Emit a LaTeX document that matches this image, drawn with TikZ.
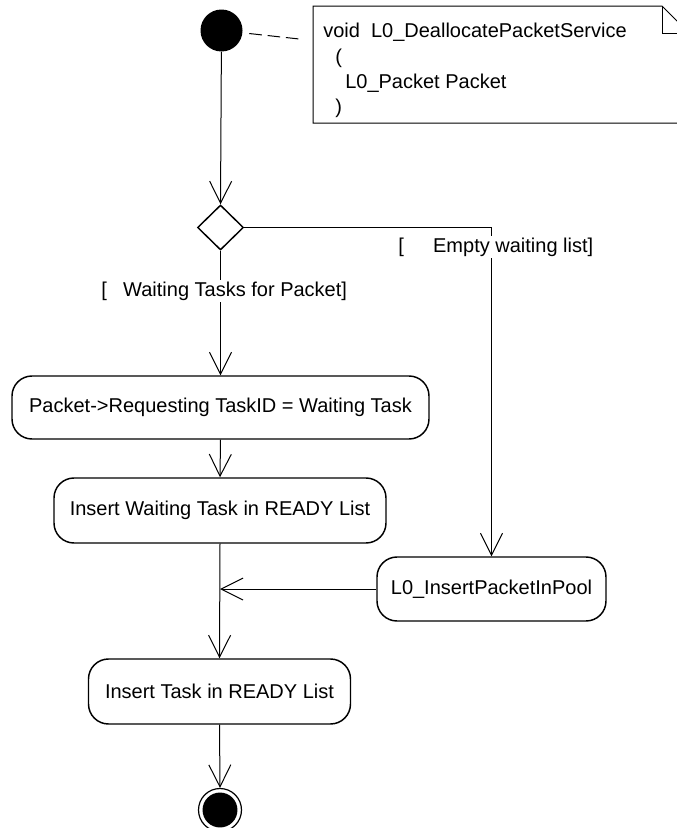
\documentclass[tikz,border=0pt]{standalone}
\usepackage{fontspec}
\setmainfont{Liberation Sans}
\usetikzlibrary{arrows.meta,shapes.geometric,calc}

\tikzset{
  action/.style={draw, line width=1.1pt, rounded corners=15pt, inner sep=0pt, align=center},
  decision/.style={diamond, draw, line width=1.1pt, minimum width=34.5pt, minimum height=33.75pt, inner sep=0pt},
  initial/.style={circle, fill=black, minimum size=31.5pt, inner sep=0pt},
  final/.style={circle, draw, line width=0.9pt, minimum size=32.25pt, inner sep=0pt,
    path picture={\fill (path picture bounding box.center) circle (13.1pt);}},
  flow/.style={line width=0.75pt, -{Straight Barb[length=16.5pt,width=16.5pt]}},
  guard/.style={fill=white, inner xsep=0pt, inner ysep=1.5pt, anchor=west},
  notetext/.style={inner sep=0pt, anchor=base west},
  noteline/.style={line width=0.75pt},
  anchorline/.style={line width=0.75pt, dash pattern=on 9.5pt off 4.3pt}
}

\begin{document}
\begin{tikzpicture}[x=0.75pt, y=-0.75pt, font=\fontsize{15pt}{18.75pt}\selectfont]
  \useasboundingbox (0,0) rectangle (677,828);
  \fill[white] (0,0) rectangle (677,828);
  \clip (0,0) rectangle (677,828);

  % note with folded corner
  \draw[noteline] (313,6) -- (662,6) -- (689,33) -- (689,123) -- (313,123) -- cycle;
  \draw[noteline] (662,6) -- (662,33) -- (689,33);
  \node[notetext] (n1) at (323,37) {void\ \ L0\_DeallocatePacketService};
  \node[notetext] (n2) at (335,63) {(};
  \node[notetext] (n3) at (345,88) {L0\_Packet Packet};
  \node[notetext] (n4) at (335,113) {)};
  \coordinate (noteanchor) at (313,40.5);

  % activity nodes
  \node[initial] (start) at (221.5,30.5) {};
  \node[decision] (dec) at (220.5,227.5) {};
  \node[action, minimum width=312.75pt, minimum height=47.25pt] (req) at (220.5,407.5)
    {Packet->Requesting TaskID = Waiting Task};
  \node[action, minimum width=249pt, minimum height=48.75pt] (ready) at (220,510.5)
    {Insert Waiting Task in READY List};
  \node[action, minimum width=171.75pt, minimum height=48pt] (pool) at (491.5,589)
    {L0\_InsertPacketInPool};
  \node[action, minimum width=196.5pt, minimum height=48.75pt] (task) at (219.5,691.5)
    {Insert Task in READY List};
  \node[final] (end) at (220,810) {};
  \coordinate (merge) at (ready.south |- pool.west);

  % transitions
  \draw[anchorline, shorten <=5pt, shorten >=8.25pt] (start) -- (noteanchor);
  \draw[flow] (start) -- (dec.north);
  \draw[flow] (dec.south) -- (req.north);
  \draw[flow] (dec.east) -| (pool.north);
  \draw[flow] (req.south) -- (ready.north);
  \draw[flow] (ready.south) -- (task.north);
  \draw[flow] (pool.west) -- (merge);
  \draw[flow] (task.south) -- (end.north);

  % guards
  \node[guard] (gwait) at (101,291) {[\hspace{12.3pt}Waiting Tasks for Packet]};
  \node[guard] (gempty) at (398,247) {[\hspace{22pt}Empty waiting list]};
\end{tikzpicture}
\end{document}
